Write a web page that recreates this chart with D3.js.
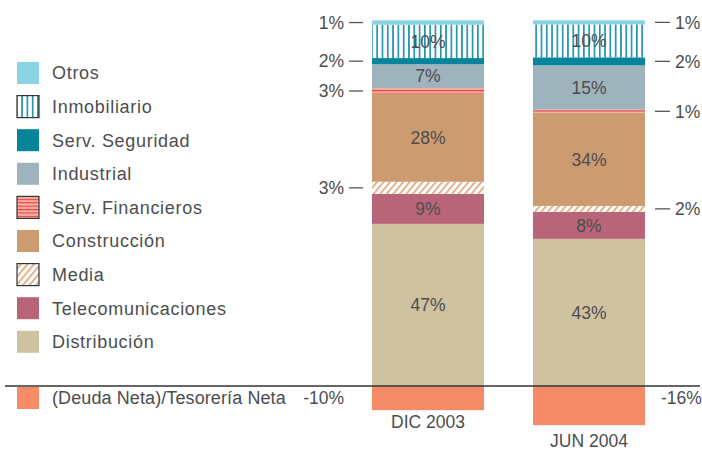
<!DOCTYPE html>
<html lang="es">
<head>
<meta charset="UTF-8">
<title>Cartera por sectores</title>
<script src="https://d3js.org/d3.v7.min.js"></script>
<style>
  body { margin: 0; background: #fff; font-family: "Liberation Sans", Arial, sans-serif; }
  text { fill: #4d4d4d; font-size: 17.5px; }
  .legend text { font-size: 18px; letter-spacing: 0.7px; }
</style>
</head>
<body>
<svg width="702" height="450"></svg>
<script>
// stacked bottom -> top
const sectors = ["Distribución", "Telecomunicaciones", "Media", "Construcción", "Serv. Financieros",
                 "Industrial", "Serv. Seguridad", "Inmobiliario", "Otros"];
const categories = ["DIC 2003", "JUN 2004"];

// segment heights (% of the column)
const shareDic2003 = [44.3, 8.2, 3.3, 24.0, 1.6, 6.5, 1.7, 9.1, 1.2];
const shareJun2004 = [40.2, 7.4, 1.6, 25.4, 0.9, 12.1, 2.2, 9.0, 1.1];
// printed percentages
const labelDic2003 = ["47%", "9%", "3%", "28%", "3%", "7%", "2%", "10%", "1%"];
const labelJun2004 = ["43%", "8%", "2%", "34%", "1%", "15%", "2%", "10%", "1%"];

const netDebt = [-6.6, -10.7];
const netDebtLabels = ["-10%", "-16%"];
const netDebtName = "(Deuda Neta)/Tesorería Neta";

const outsideSectors = ["Media", "Serv. Financieros", "Serv. Seguridad", "Otros"];

const colors = {
  "Distribución": "#cec2a0",
  "Telecomunicaciones": "#b8657a",
  "Media": "url(#pMedia)",
  "Construcción": "#cd9b70",
  "Serv. Financieros": "url(#pFin)",
  "Industrial": "#9fb3bc",
  "Serv. Seguridad": "#05849c",
  "Inmobiliario": "url(#pInmo)",
  "Otros": "#8ad3e3"
};
const debtColor = "#f68b67";

const svg = d3.select("svg");
const defs = svg.append("defs");

// vertical stripes
const pInmo = defs.append("pattern").attr("id", "pInmo")
  .attr("patternUnits", "userSpaceOnUse").attr("width", 5.3).attr("height", 10);
pInmo.append("rect").attr("width", 5.3).attr("height", 10).attr("fill", "#fff");
pInmo.append("rect").attr("x", 0).attr("width", 1.7).attr("height", 10).attr("fill", "#2394ac");

// horizontal red lines
const pFin = defs.append("pattern").attr("id", "pFin")
  .attr("patternUnits", "userSpaceOnUse").attr("width", 10).attr("height", 3.4);
pFin.append("rect").attr("width", 10).attr("height", 3.4).attr("fill", "#f6b3aa");
pFin.append("rect").attr("y", 1.6).attr("width", 10).attr("height", 1.2).attr("fill", "#e8453c");

// diagonal lines
const pMedia = defs.append("pattern").attr("id", "pMedia")
  .attr("patternUnits", "userSpaceOnUse").attr("width", 5).attr("height", 10)
  .attr("patternTransform", "rotate(40)");
pMedia.append("rect").attr("width", 5).attr("height", 10).attr("fill", "#fff");
pMedia.append("rect").attr("width", 1.6).attr("height", 10).attr("fill", "#dba171");

const x = d3.scaleBand().domain(categories).range([372, 645]).paddingInner(0.304).paddingOuter(0);
const y = d3.scaleLinear().domain([0, 100]).range([386, 20]);

const shares = [shareDic2003, shareJun2004];
const labels = [labelDic2003, labelJun2004];

const table = categories.map((c, i) => {
  const row = { cat: c };
  sectors.forEach((s, j) => row[s] = shares[i][j]);
  return row;
});
const series = d3.stack().keys(sectors)(table);

const g = svg.append("g");
series.forEach(s => {
  g.selectAll(null).data(s).enter().append("rect")
    .attr("x", d => x(d.data.cat))
    .attr("width", x.bandwidth())
    .attr("y", d => y(d[1]))
    .attr("height", d => y(d[0]) - y(d[1]))
    .attr("fill", colors[s.key]);
});

// net debt below zero
g.selectAll(null).data(categories).enter().append("rect")
  .attr("x", d => x(d))
  .attr("width", x.bandwidth())
  .attr("y", y(0))
  .attr("height", (d, i) => y(netDebt[i]) - y(0))
  .attr("fill", debtColor);

// labels
series.forEach((s, j) => {
  const inside = !outsideSectors.includes(s.key);
  s.forEach((d, i) => {
    const mid = y((d[0] + d[1]) / 2);
    const txt = labels[i][j];
    if (inside) {
      g.append("text").attr("x", x(d.data.cat) + x.bandwidth() / 2).attr("y", mid)
        .attr("dy", "0.36em").attr("text-anchor", "middle").text(txt);
    } else if (i === 0) {
      const x0 = x(d.data.cat);
      g.append("line").attr("x1", x0 - 23).attr("x2", x0 - 9).attr("y1", mid).attr("y2", mid)
        .attr("stroke", "#555").attr("stroke-width", 1.3);
      g.append("text").attr("x", x0 - 28).attr("y", mid).attr("dy", "0.36em")
        .attr("text-anchor", "end").text(txt);
    } else {
      const x1 = x(d.data.cat) + x.bandwidth();
      g.append("line").attr("x1", x1 + 10).attr("x2", x1 + 25).attr("y1", mid).attr("y2", mid)
        .attr("stroke", "#555").attr("stroke-width", 1.3);
      g.append("text").attr("x", x1 + 30).attr("y", mid).attr("dy", "0.36em")
        .attr("text-anchor", "start").text(txt);
    }
  });
});

// net debt labels
g.append("text").attr("x", x(categories[0]) - 28).attr("y", y(0) + 12).attr("dy", "0.36em")
  .attr("text-anchor", "end").text(netDebtLabels[0]);
g.append("text").attr("x", x(categories[1]) + x.bandwidth() + 16).attr("y", y(0) + 12).attr("dy", "0.36em")
  .attr("text-anchor", "start").text(netDebtLabels[1]);

// category labels
g.selectAll(null).data(categories).enter().append("text")
  .attr("x", d => x(d) + x.bandwidth() / 2)
  .attr("y", (d, i) => y(netDebt[i]) + 18 + i * 4)
  .attr("text-anchor", "middle")
  .text(d => d);

// zero line
svg.append("line").attr("x1", 5).attr("x2", 700).attr("y1", y(0)).attr("y2", y(0))
  .attr("stroke", "#333").attr("stroke-width", 1.4);

// legend
const legendItems = sectors.slice().reverse();
const legend = svg.append("g").attr("class", "legend");
legendItems.forEach((s, i) => {
  const top = 62 + i * 33.6;
  const patterned = colors[s].startsWith("url");
  legend.append("rect").attr("x", 17).attr("y", top).attr("width", 22).attr("height", 22)
    .attr("fill", colors[s])
    .attr("stroke", patterned ? "#333" : "none").attr("stroke-width", 1.2);
  legend.append("text").attr("x", 52).attr("y", top + 11).attr("dy", "0.36em").text(s);
});
legend.append("rect").attr("x", 17).attr("y", y(0) + 1).attr("width", 22).attr("height", 22)
  .attr("fill", debtColor);
legend.append("text").attr("x", 52).attr("y", y(0) + 12).attr("dy", "0.36em")
  .style("letter-spacing", "0.1px").text(netDebtName);
</script>
</body>
</html>
